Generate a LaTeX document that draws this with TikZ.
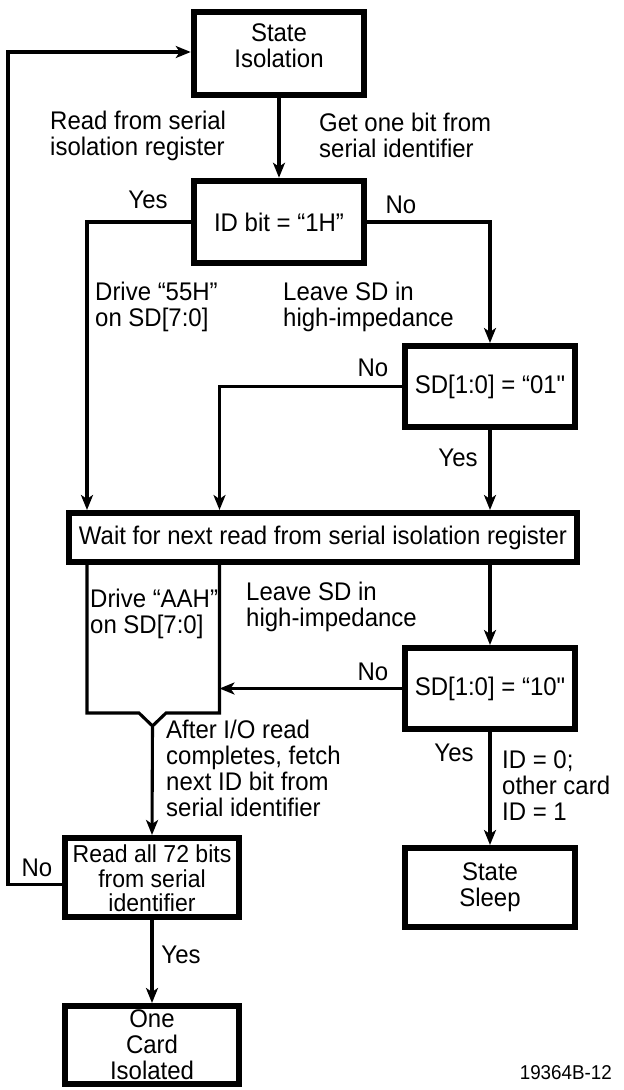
\documentclass[tikz,border=0pt]{standalone}
\usepackage{fontspec}
\newfontfamily\chartfont{Liberation Sans}[FakeStretch=0.94]
\usetikzlibrary{arrows.meta}

\begin{document}
\begin{tikzpicture}[x=1pt, y=-1pt,
    every node/.style={font=\chartfont\fontsize{25.5}{26}\selectfont},
    statebox/.style={draw, line width=6pt, align=center, inner sep=0pt,
                     minimum width=170.5pt, minimum height=82.5pt},
    lbl/.style={inner sep=0pt},
    note/.style={inner sep=0pt, anchor=west, align=left},
    flow/.style={line width=3.1pt, -{Stealth[length=15pt, width=12pt, inset=4pt]}},
    joinline/.style={line width=3.1pt}]
  \useasboundingbox (0,0) rectangle (624,1090);

  \node[statebox, text depth=15pt] (isolation) at (279,53.5) {State\\Isolation};
  \node[statebox] (idbit) at (279,222) {ID bit = “1H”};
  \node[statebox, minimum height=81pt] (sdone) at (490,386.5) {SD[1:0] = “01"};
  \node[statebox, minimum width=508pt, minimum height=49pt] (waitread) at (323,537.5)
    {Wait for next read from serial isolation register};
  \node[statebox, minimum height=81pt] (sdtwo) at (490,688.5) {SD[1:0] = “10"};
  \node[statebox, minimum width=174pt, minimum height=79pt, text height=69pt,
        font=\chartfont\fontsize{24.5}{24.5}\selectfont] (readall) at (152,877.5)
    {Read all 72 bits\\from serial\\identifier};
  \node[statebox, minimum height=79pt] (sleep) at (490,887.5) {State\\Sleep};
  \node[statebox, minimum width=174pt, minimum height=78pt] (isolated) at (152,1045)
    {One\\Card\\Isolated};

  \coordinate (leftcol) at (87,0);
  \coordinate (midcol) at (219.5,0);
  \coordinate (backcol) at (8,470);
  \coordinate (joinpt) at (152.5,726);

  \draw[flow] (isolation) -- (idbit);
  \draw[flow] (idbit.west) -| (leftcol |- waitread.north);
  \draw[flow] (idbit.east) -| (sdone.north);
  \draw[flow] (sdone.west) -| (midcol |- waitread.north);
  \draw[flow] (sdone.south) -- (sdone.south |- waitread.north);
  \draw[flow] (sdtwo.north |- waitread.south) -- (sdtwo.north);
  \draw[joinline] (leftcol |- waitread.south) -- (87,713) -- (139,713) -- (joinpt)
    -- (166,713) -- (219.5,713) -- (midcol |- waitread.south);
  \draw[flow] (sdtwo.west) -- (midcol |- sdtwo.west);
  \draw[flow] (joinpt) -- (readall.north);
  \draw[flow] (readall) -- (isolated);
  \draw[flow] (sdtwo) -- (sleep);
  \draw[flow] ([yshift=-7pt]readall.west) -| (backcol) |- ([yshift=1.5pt]isolation.west);

  \node[note] (readlbl) at (50,135.5) {Read from serial\\isolation register};
  \node[note] (getlbl) at (319,135.5) {Get one bit from\\serial identifier};
  \node[lbl] (yesa) at (148,200) {Yes};
  \node[lbl] (noa) at (401,205) {No};
  \node[note] (drive55) at (95,306.5) {Drive “55H”\\on SD[7:0]};
  \node[note] (leavea) at (283,306.5) {Leave SD in\\high-impedance};
  \node[lbl] (nob) at (373,368) {No};
  \node[lbl] (yesb) at (458,458) {Yes};
  \node[note] (driveaa) at (90,613.5) {Drive “AAH”\\on SD[7:0]};
  \node[note] (leaveb) at (246,606.5) {Leave SD in\\high-impedance};
  \node[lbl] (noc) at (373,672) {No};
  \node[lbl] (yesc) at (454,753) {Yes};
  \node[note] (idlbl) at (502,786) {ID = 0;\\other card\\ID = 1};
  \node[note] (afterlbl) at (166,768)
    {After I/O read\\completes, fetch\\next ID bit from\\serial identifier};
  \node[lbl] (nod) at (37,868) {No};
  \node[lbl] (yesd) at (181,955) {Yes};
  \node[lbl, anchor=east, font=\chartfont\fontsize{20}{21}\selectfont] (figno)
    at (612,1073) {19364B-12};
\end{tikzpicture}
\end{document}
